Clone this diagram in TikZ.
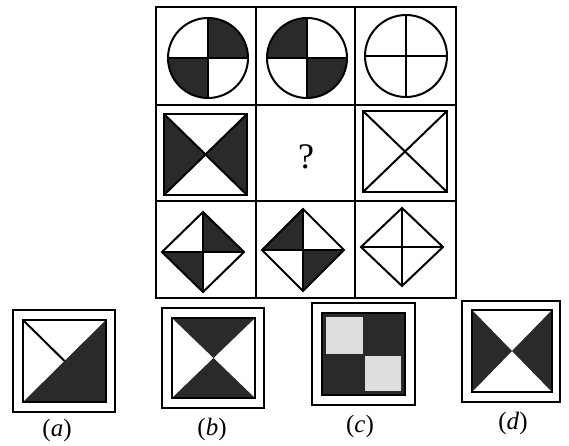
\documentclass[tikz,border=0pt]{standalone}
\usepackage{fontspec}
\setmainfont{Liberation Serif}
\begin{document}
\definecolor{darkfill}{RGB}{42,42,42}
\definecolor{paperlight}{RGB}{222,222,222}
\begin{tikzpicture}[x=1pt,y=-1pt,
  gridline/.style={line width=1.6pt},
  figline/.style={line width=2pt},
  thickbox/.style={line width=2.4pt},
  outerbox/.style={line width=1.6pt},
  dk/.style={fill=darkfill},
  lbl/.style={font=\fontsize{25}{29}\selectfont, inner sep=0pt}]
\useasboundingbox (0,0) rectangle (569,445);
\fill[white] (0,0) rectangle (569,445);

% grid
\draw[gridline] (156,7) rectangle (456,298);
\draw[gridline] (256,7) -- (256,298);
\draw[gridline] (355,7) -- (355,298);
\draw[gridline] (156,105) -- (456,105);
\draw[gridline] (156,201) -- (456,201);

% row 1 circles
\begin{scope}
  \clip (208,58) circle[radius=40];
  \fill[dk] (208,18) rectangle (248,58);
  \fill[dk] (168,58) rectangle (208,98);
\end{scope}
\draw[figline] (208,58) circle[radius=40];
\draw[figline] (168,58) -- (248,58) (208,18) -- (208,98);

\begin{scope}
  \clip (307,58) circle[radius=40];
  \fill[dk] (267,18) rectangle (307,58);
  \fill[dk] (307,58) rectangle (347,98);
\end{scope}
\draw[figline] (307,58) circle[radius=40];
\draw[figline] (267,58) -- (347,58) (307,18) -- (307,98);

\draw[figline] (406,56) circle[radius=41];
\draw[figline] (365,56) -- (447,56) (406,15) -- (406,97);

% row 2
\fill[dk] (164,114) -- (205.5,154.5) -- (164,195) -- cycle;
\fill[dk] (247,114) -- (205.5,154.5) -- (247,195) -- cycle;
\draw[figline] (164,114) -- (247,195) (247,114) -- (164,195);
\draw[thickbox] (164,114) rectangle (247,195);

\node[font=\fontsize{36}{40}\selectfont, inner sep=0pt] (q) at (306,157) {?};

\draw[figline] (363,111) -- (447,192) (447,111) -- (363,192);
\draw[thickbox] (363,111) rectangle (447,192);

% row 3 diamonds
\fill[dk] (203,252) -- (203,212) -- (244,252) -- cycle;
\fill[dk] (203,252) -- (203,292) -- (162,252) -- cycle;
\draw[figline] (203,212) -- (244,252) -- (203,292) -- (162,252) -- cycle;
\draw[figline] (203,212) -- (203,292) (162,252) -- (244,252);

\fill[dk] (303,250) -- (303,209) -- (262,250) -- cycle;
\fill[dk] (303,250) -- (303,291) -- (344,250) -- cycle;
\draw[figline] (303,209) -- (344,250) -- (303,291) -- (262,250) -- cycle;
\draw[figline] (303,209) -- (303,291) (262,250) -- (344,250);

\draw[figline] (402,208) -- (443,247) -- (402,286) -- (361,247) -- cycle;
\draw[figline] (402,208) -- (402,286) (361,247) -- (443,247);

% option (a)
\draw[outerbox] (13,310) rectangle (115,412);
\fill[dk] (23,402) -- (106,320) -- (106,402) -- cycle;
\draw[figline] (23,320) -- (64.5,361);
\draw[thickbox] (23,320) rectangle (106,402);
\node[lbl] (la) at (57,430) {(\textit{a})};

% option (b)
\draw[outerbox] (162,308) rectangle (264,408);
\fill[dk] (172,318) -- (255,318) -- (213.5,358) -- cycle;
\fill[dk] (172,398) -- (255,398) -- (213.5,358) -- cycle;
\draw[thickbox] (172,318) rectangle (255,398);
\node[lbl] (lb) at (212,429) {(\textit{b})};

% option (c)
\draw[outerbox] (312,303) rectangle (415,405);
\fill[darkfill] (322,313) rectangle (405,395);
\draw[thickbox, draw=black] (322,313) rectangle (405,395);
\fill[paperlight] (326,317) rectangle (363,354);
\fill[paperlight] (365,356) rectangle (401,391);
\node[lbl] (lc) at (360,426) {(\textit{c})};

% option (d)
\draw[outerbox] (462,301) rectangle (560,402);
\fill[dk] (472,310) -- (512,351) -- (472,392) -- cycle;
\fill[dk] (552,310) -- (512,351) -- (552,392) -- cycle;
\draw[thickbox] (472,310) rectangle (552,392);
\node[lbl] (ld) at (513,423) {(\textit{d})};
\end{tikzpicture}
\end{document}
